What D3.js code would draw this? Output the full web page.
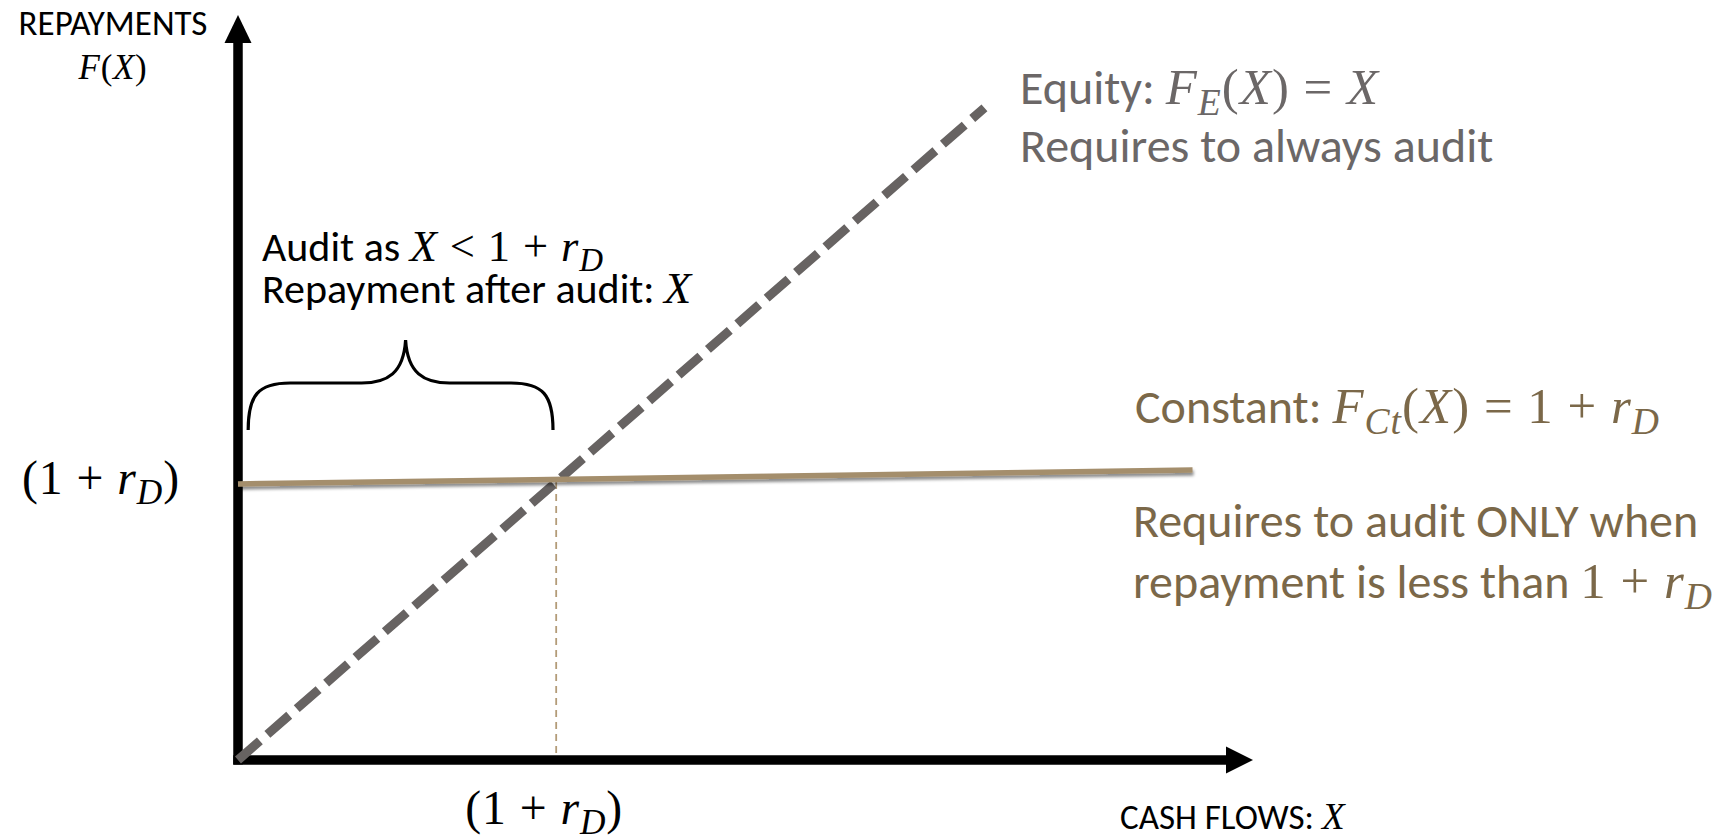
<!DOCTYPE html>
<html>
<head>
<meta charset="utf-8">
<script src="https://cdn.jsdelivr.net/npm/d3@7"></script>
<style>
    body { margin: 0; background: #fff; }
    text { white-space: pre; }
</style>
</head>
<body>
<svg id="chart" width="1717" height="839"></svg>
<script>
// data (in units of the payoff, 1 + r_D == 1)
const xDomain = [0, 3.19];
const yDomain = [0, 2.68];
const kinkValue = [1];                       // X = 1 + r_D
const equityLine = [[0, 0], [2.346, 2.346]];  // F_E(X) = X
const constantLine = [[0, 0.993], [3.0, 1.043]]; // F_Ct(X) = 1 + r_D (drawn slightly tilted)
const braceSpan = [0.032, 0.99];

// labels: [text, kind]  kind = sans | it | rm | sub
const yTitleLabel = [['REPAYMENTS', 'sans']];
const yTitleMath = [['F', 'it'], ['(', 'rm'], ['X', 'it'], [')', 'rm']];
const xTitleLabel = [['CASH FLOWS: ', 'sans'], ['X', 'it']];
const kinkLabel = [['(1 + ', 'rm'], ['r', 'it'], ['D', 'sub'], [')', 'rm']];
const equityLabel = [
    [['Equity: ', 'sans'], ['F', 'it'], ['E', 'sub'], ['(', 'rm'], ['X', 'it'], [') = ', 'rm'], ['X', 'it']],
    [['Requires to always audit', 'sans']]
];
const constantLabel = [
    [['Constant: ', 'sans'], ['F', 'it'], ['Ct', 'sub'], ['(', 'rm'], ['X', 'it'], [') = 1 + ', 'rm'], ['r', 'it'], ['D', 'sub']]
];
const constantNote = [
    [['Requires to audit ONLY when', 'sans']],
    [['repayment is less than ', 'sans'], ['1 + ', 'rm'], ['r', 'it'], ['D', 'sub']]
];
const auditLabel = [
    [['Audit as ', 'sans'], ['X', 'it'], [' < 1 + ', 'rm'], ['r', 'it'], ['D', 'sub']],
    [['Repayment after audit: ', 'sans'], ['X', 'it']]
];

const SANS = "Carlito, Lato, 'Open Sans', sans-serif";
const SERIF = "'Liberation Serif', 'DejaVu Serif', serif";

const svg = d3.select('#chart');

const x = d3.scaleLinear().domain(xDomain).range([238, 1253]);
const y = d3.scaleLinear().domain(yDomain).range([760, 15]);

// shadow used under the constant line
svg.append('defs')
    .append('filter')
    .attr('id', 'shadow')
    .attr('x', '-5%').attr('y', '-200%')
    .attr('width', '110%').attr('height', '500%')
    .append('feDropShadow')
    .attr('dx', 1).attr('dy', 3)
    .attr('stdDeviation', 1.8)
    .attr('flood-color', '#000')
    .attr('flood-opacity', 0.45);

/**
 * writes a line of text made from sans words and math pieces
 */
function writeLine(parent, px, py, parts, size, color, anchor) {
    let t = parent.append('text')
        .attr('x', px)
        .attr('y', py)
        .attr('fill', color)
        .attr('font-size', size)
        .attr('text-anchor', anchor || 'start');
    let shift = 0;
    let mathSize = size * 1.06;
    for (let [str, kind] of parts) {
        let ts = t.append('tspan').text(str);
        if (kind === 'sans') {
            ts.attr('font-family', SANS);
        } else {
            ts.attr('font-family', SERIF)
                .attr('font-size', mathSize)
                .attr('letter-spacing', mathSize * 0.02);
        }
        if (kind === 'it' || kind === 'sub') ts.attr('font-style', 'italic');
        if (kind === 'sub') {
            ts.attr('font-size', mathSize * 0.74).attr('dy', size * 0.23);
            shift = size * 0.23;
        } else if (shift) {
            ts.attr('dy', -shift);
            shift = 0;
        }
    }
    return t;
}

function writeBlock(parent, px, py, lines, size, lineGap, color) {
    lines.forEach((parts, i) => writeLine(parent, px, py + i * lineGap, parts, size, color));
}

// ---- axes ----
const axes = svg.append('g');
axes.append('line')
    .attr('x1', x(0)).attr('x2', x(0))
    .attr('y1', y(0) + 4.5).attr('y2', 40)
    .attr('stroke', '#000').attr('stroke-width', 9.5);
axes.append('path')
    .attr('d', d3.line()([[x(0) - 13.5, 43], [x(0), 15], [x(0) + 13.5, 43]]) + 'Z')
    .attr('fill', '#000');
axes.append('line')
    .attr('x1', x(0) - 4.75).attr('x2', 1228)
    .attr('y1', y(0)).attr('y2', y(0))
    .attr('stroke', '#000').attr('stroke-width', 9.5);
axes.append('path')
    .attr('d', d3.line()([[1226, y(0) - 13.5], [x(xDomain[1]), y(0)], [1226, y(0) + 13.5]]) + 'Z')
    .attr('fill', '#000');

// dotted drop line at the kink
svg.selectAll('.kink')
    .data(kinkValue)
    .join('line')
    .attr('class', 'kink')
    .attr('x1', d => x(d)).attr('x2', d => x(d))
    .attr('y1', d => y(d)).attr('y2', y(0) - 4.5)
    .attr('stroke', '#b39b78')
    .attr('stroke-width', 1.8)
    .attr('stroke-dasharray', '7 5');

const line = d3.line().x(d => x(d[0])).y(d => y(d[1]));

// equity: dashed 45 degree line
svg.append('path')
    .attr('d', line(equityLine))
    .attr('fill', 'none')
    .attr('stroke', '#676362')
    .attr('stroke-width', 9)
    .attr('stroke-dasharray', '29 10');

// constant repayment
svg.append('path')
    .attr('d', line(constantLine))
    .attr('fill', 'none')
    .attr('stroke', '#a48e6c')
    .attr('stroke-width', 5.5)
    .attr('filter', 'url(#shadow)');

// curly brace over the audit region
const bx0 = x(braceSpan[0]), bx1 = x(braceSpan[1]);
const bm = (bx0 + bx1) / 2 + 5;
const bTop = 383, bBot = 430, bTip = 340, r = 32;
const bracePath = d3.path();
bracePath.moveTo(bx0, bBot);
bracePath.bezierCurveTo(bx0, bTop + 12, bx0 + 10, bTop, bx0 + r + 10, bTop);
bracePath.lineTo(bm - 44, bTop);
bracePath.bezierCurveTo(bm - 18, bTop, bm - 2, bTop - 10, bm, bTip);
bracePath.bezierCurveTo(bm + 2, bTop - 10, bm + 18, bTop, bm + 44, bTop);
bracePath.lineTo(bx1 - r - 10, bTop);
bracePath.bezierCurveTo(bx1 - 10, bTop, bx1, bTop + 12, bx1, bBot);
svg.append('path')
    .attr('d', bracePath.toString())
    .attr('fill', 'none')
    .attr('stroke', '#000')
    .attr('stroke-width', 3.2);

// ---- labels ----
writeLine(svg, 113, 35, yTitleLabel, 35, '#000', 'middle');
writeLine(svg, 113, 79, yTitleMath, 33, '#000', 'middle');
writeLine(svg, 1120, 829, xTitleLabel, 35, '#000');

kinkValue.forEach(v => {
    writeLine(svg, 22, y(v) + 12, kinkLabel, 45, '#000');
    writeLine(svg, x(v) - 12, 824, kinkLabel, 45, '#000', 'middle');
});

writeBlock(svg, 1020, 104, equityLabel, 48, 58, '#6b6767');
writeBlock(svg, 1135, 423, constantLabel, 48, 58, '#7b6849');
writeBlock(svg, 1133, 537, constantNote, 48, 61, '#7b6849');
writeBlock(svg, 262, 261, auditLabel, 42, 42, '#000');
</script>
</body>
</html>
